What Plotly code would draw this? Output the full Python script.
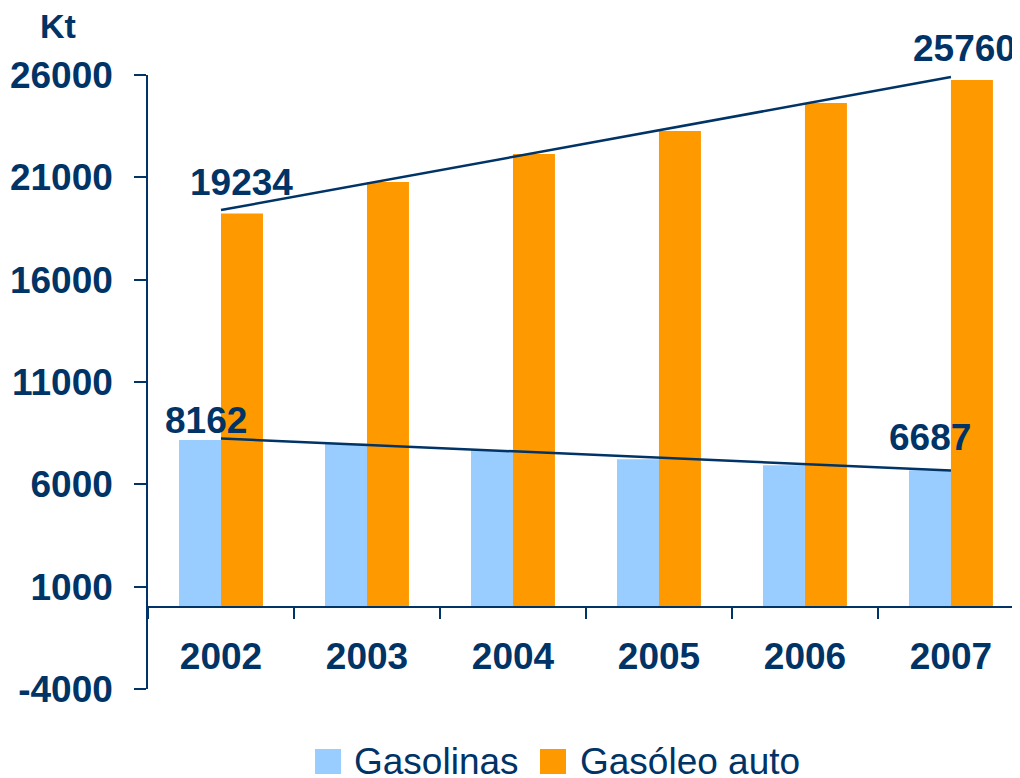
import plotly.graph_objects as go

# datos (Kt)
anos = ["2002", "2003", "2004", "2005", "2006", "2007"]
gasolinas = [8162, 7997, 7670, 7230, 6936, 6687]
gasoleo_auto = [19234, 20771, 22139, 23263, 24632, 25760]

# lineas de tendencia (extremos)
tend_x = ["2002", "2007"]
tend_gasolinas = [8240, 6680]
tend_gasoleo = [19400, 25900]

y_ticks = [-4000, 1000, 6000, 11000, 16000, 21000, 26000]
y_labels = ["-4000", "1000", "6000", "11000", "16000", "21000", "26000"]

azul_osc = "#003366"
azul = "#99CCFF"
naranja = "#FF9900"
fuente = "Liberation Sans, Arial, sans-serif"

# la pagina deja 8px de margen, se compensa aqui
OFF = 8
W, H = 1020 - OFF, 778 - OFF
ML, MR, MT, MB = 148 - OFF, 0, 75 - OFF, 89
pw, ph = W - ML - MR, H - MT - MB


def px(x):
    return (x - OFF - ML) / pw


def py(y):
    return (H - MB - (y - OFF)) / ph


fig = go.Figure()

fig.add_trace(go.Bar(x=anos, y=gasolinas, name="Gasolinas",
                     marker=dict(color=azul, line=dict(width=0))))
fig.add_trace(go.Bar(x=anos, y=gasoleo_auto, name="Gasóleo auto",
                     marker=dict(color=naranja, line=dict(width=0))))

fig.add_trace(go.Scatter(x=tend_x, y=tend_gasoleo, mode="lines",
                         line=dict(color=azul_osc, width=2.5), showlegend=False))
fig.add_trace(go.Scatter(x=tend_x, y=tend_gasolinas, mode="lines",
                         line=dict(color=azul_osc, width=2.5), showlegend=False))

# etiquetas de valores
etiquetas = [
    (0, tend_gasoleo[0], "19234", 20, 28),
    (5, tend_gasoleo[1], "25760", 14, 29),
    (0, tend_gasolinas[0], "8162", -15, 18),
    (5, tend_gasolinas[1], "6687", -21, 33),
]
for x, y, txt, dx, dy in etiquetas:
    fig.add_annotation(xref="x", yref="y", x=x, y=y, text=txt, showarrow=False,
                       xshift=dx, yshift=dy, xanchor="center", yanchor="middle",
                       font=dict(family=fuente, size=37, color=azul_osc, weight="bold"))

# unidad
fig.add_annotation(xref="paper", yref="paper", x=px(58), y=py(26), text="Kt",
                   showarrow=False, xanchor="center", yanchor="middle",
                   font=dict(family=fuente, size=34, color=azul_osc, weight="bold"))

# leyenda
leyenda = [("Gasolinas", azul, 315, 352), ("Gasóleo auto", naranja, 540, 578)]
for txt, col, x0, xt in leyenda:
    fig.add_shape(type="rect", xref="paper", yref="paper",
                  x0=px(x0), x1=px(x0 + 26), y0=py(749), y1=py(774),
                  fillcolor=col, line=dict(width=0))
    fig.add_annotation(xref="paper", yref="paper", x=px(xt), y=py(761), text=txt,
                       showarrow=False, xanchor="left", yanchor="middle",
                       font=dict(family=fuente, size=37, color=azul_osc))

fig.update_layout(
    width=W, height=H,
    margin=dict(l=ML, r=MR, t=MT, b=MB),
    plot_bgcolor="white", paper_bgcolor="white",
    barmode="group", bargap=0.425, bargroupgap=0,
    showlegend=False,
)

fig.update_xaxes(
    type="category", range=[-0.5, 5.473],
    showline=True, linecolor=azul_osc, linewidth=1.5,
    anchor="free", position=4000 / 30000,
    ticks="outside", tickson="boundaries", ticklen=11, tickcolor=azul_osc, tickwidth=1.5,
    ticklabelstandoff=17,
    tickfont=dict(family=fuente, size=37, color=azul_osc, weight="bold"),
    showgrid=False,
)

fig.update_yaxes(
    range=[-4000, 26000], tickvals=y_ticks, ticktext=y_labels,
    showline=True, linecolor=azul_osc, linewidth=1.5,
    ticks="outside", ticklen=12, tickcolor=azul_osc, tickwidth=1.5,
    ticklabelstandoff=14,
    tickfont=dict(family=fuente, size=37, color=azul_osc, weight="bold"),
    showgrid=False, zeroline=False,
)

fig.write_html("out.html")
